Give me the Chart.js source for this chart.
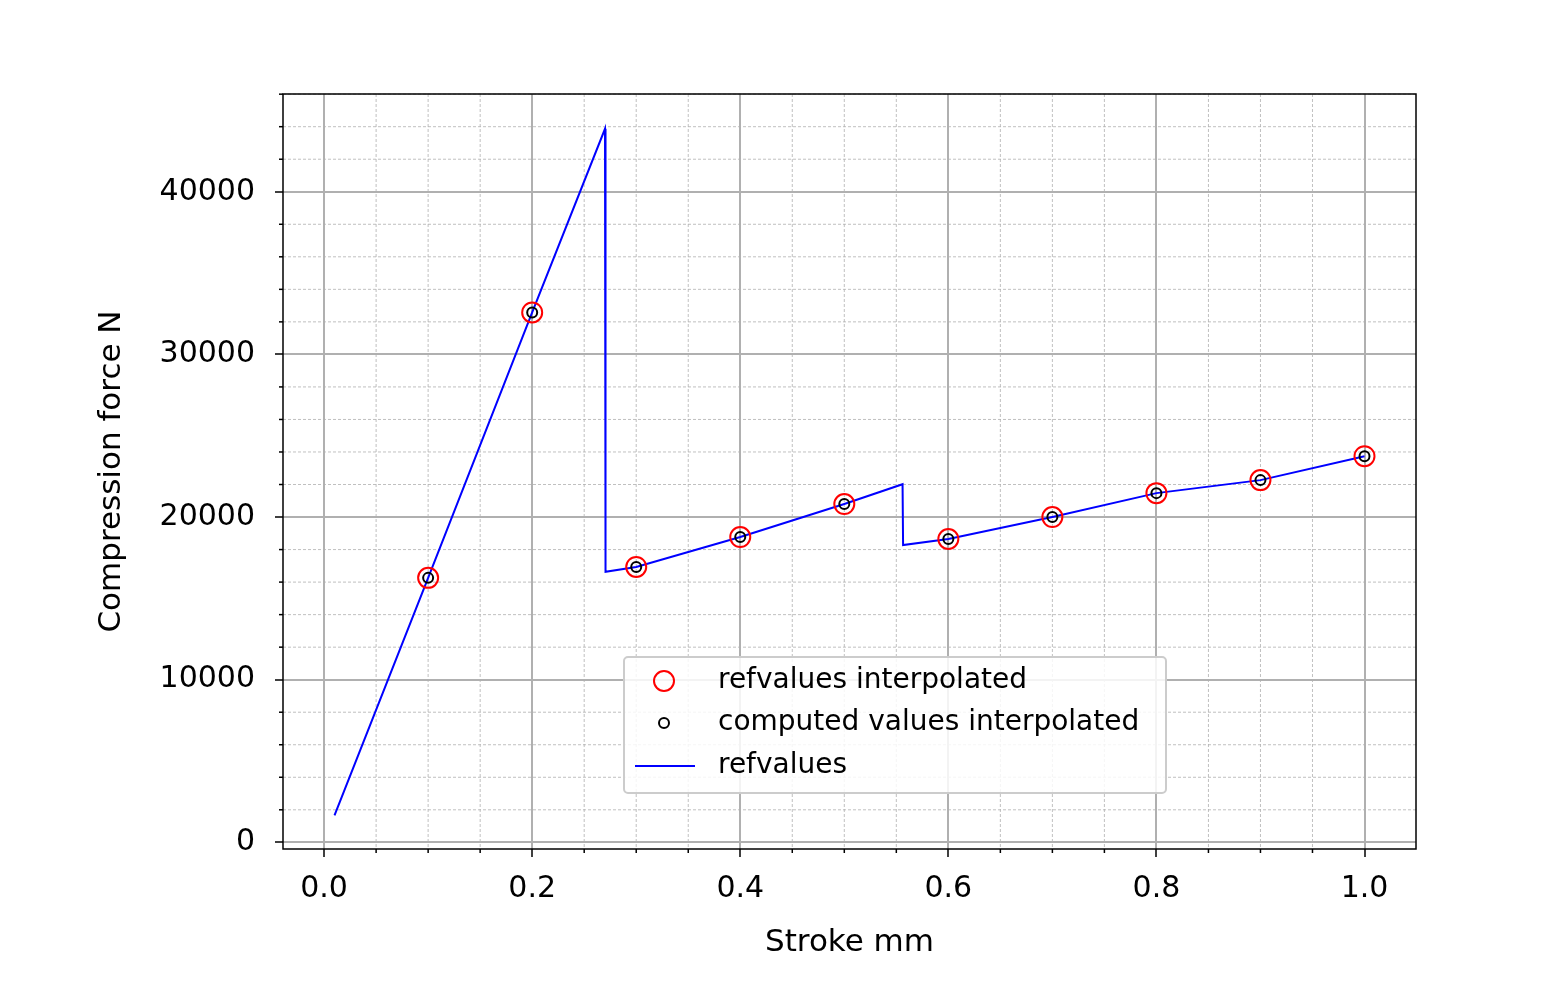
<!DOCTYPE html>
<html><head><meta charset="utf-8">
<script src="https://cdn.jsdelivr.net/npm/chart.js@4"></script>
<style>body{margin:0;background:#fff}</style>
</head><body>
<canvas id="c" width="1559" height="992" style="width:1559px;height:992px"></canvas>
<script>
// Data
const pointX = [0.1, 0.2, 0.3, 0.4, 0.5, 0.6, 0.7, 0.8, 0.9, 1.0];
const refInterp = [16260, 32580, 16930, 18770, 20800, 18650, 20000, 21470, 22270, 23740];
const computedInterp = [16260, 32580, 16930, 18770, 20800, 18650, 20000, 21470, 22270, 23740];
const lineX = [0.01, 0.1, 0.2, 0.27, 0.2705, 0.3, 0.4, 0.5, 0.556, 0.5565, 0.6, 0.7, 0.8, 0.9, 1.0];
const lineY = [1660, 16260, 32580, 43870, 16630, 16930, 18770, 20800, 22020, 18280, 18650, 20000, 21470, 22270, 23740];
const xMajor = [0, 0.2, 0.4, 0.6, 0.8, 1.0];
const yMajor = [0, 10000, 20000, 30000, 40000];
const FONT = '"DejaVu Sans", sans-serif';

const zip = (xs, ys) => xs.map((x, i) => ({x, y: ys[i]}));
const isMajorX = r => Math.abs(r*5 - Math.round(r*5)) < 1e-6;

// minor grid, frame, axis titles and legend drawn on top of the library scales
const extras = {
  id: 'extras',
  beforeDatasetsDraw(chart){
    const {ctx, chartArea:a, scales:{x, y}} = chart;
    ctx.save();
    ctx.strokeStyle = '#b0b0b0'; ctx.lineWidth = 0.8; ctx.setLineDash([3, 2]);
    for(let v = 0; v <= 1.05; v += 0.05){
      const r = Math.round(v*100)/100;
      if(isMajorX(r)) continue;
      const px = x.getPixelForValue(r);
      ctx.beginPath(); ctx.moveTo(px, a.top); ctx.lineTo(px, a.bottom); ctx.stroke();
    }
    for(let v = 0; v <= 46000; v += 2000){
      if(v % 10000 === 0) continue;
      const py = y.getPixelForValue(v);
      ctx.beginPath(); ctx.moveTo(a.left, py); ctx.lineTo(a.right, py); ctx.stroke();
    }
    ctx.setLineDash([]); ctx.strokeStyle = '#000'; ctx.lineWidth = 1.5;
    for(let v = 0; v <= 1.05; v += 0.05){
      const r = Math.round(v*100)/100;
      if(isMajorX(r)) continue;
      const px = x.getPixelForValue(r);
      ctx.beginPath(); ctx.moveTo(px, a.bottom); ctx.lineTo(px, a.bottom + 4); ctx.stroke();
    }
    for(let v = 0; v <= 46000; v += 2000){
      if(v % 10000 === 0) continue;
      const py = y.getPixelForValue(v);
      ctx.beginPath(); ctx.moveTo(a.left, py); ctx.lineTo(a.left - 4, py); ctx.stroke();
    }
    ctx.restore();
  },
  afterDraw(chart){
    const {ctx, chartArea:a} = chart;
    ctx.save();
    ctx.strokeStyle = '#000'; ctx.lineWidth = 1.5;
    ctx.strokeRect(a.left, a.top, a.right - a.left, a.bottom - a.top);
    // axis titles
    ctx.fillStyle = '#000'; ctx.font = '31px ' + FONT;
    ctx.textAlign = 'center'; ctx.textBaseline = 'middle';
    ctx.fillText('Stroke mm', (a.left + a.right)/2, 943);
    ctx.save(); ctx.translate(112, (a.top + a.bottom)/2); ctx.rotate(-Math.PI/2);
    ctx.fillText('Compression force N', 0, 0); ctx.restore();
    // legend
    const lx = 624, ly = 657, lw = 542, lh = 136;
    ctx.fillStyle = 'rgba(255,255,255,0.85)'; ctx.strokeStyle = '#cccccc'; ctx.lineWidth = 2;
    ctx.beginPath(); ctx.roundRect(lx, ly, lw, lh, 4); ctx.fill(); ctx.stroke();
    ctx.font = '28px ' + FONT; ctx.fillStyle = '#000'; ctx.textAlign = 'left';
    const rows = [681, 723, 766];
    ctx.strokeStyle = 'red'; ctx.lineWidth = 2;
    ctx.beginPath(); ctx.arc(664, rows[0], 10, 0, Math.PI*2); ctx.stroke();
    ctx.strokeStyle = '#000';
    ctx.beginPath(); ctx.arc(664, rows[1], 5, 0, Math.PI*2); ctx.stroke();
    ctx.strokeStyle = 'blue';
    ctx.beginPath(); ctx.moveTo(635, rows[2]); ctx.lineTo(695, rows[2]); ctx.stroke();
    ctx.fillText('refvalues interpolated', 718, rows[0]);
    ctx.fillText('computed values interpolated', 718, rows[1]);
    ctx.fillText('refvalues', 718, rows[2]);
    ctx.restore();
  }
};

new Chart(document.getElementById('c'), {
  type: 'scatter',
  data: {datasets: [
    {data: zip(pointX, refInterp), pointRadius: 10, pointBorderWidth: 2, pointBorderColor: 'red', pointBackgroundColor: 'transparent', showLine: false},
    {data: zip(pointX, computedInterp), pointRadius: 5, pointBorderWidth: 2, pointBorderColor: '#000', pointBackgroundColor: 'transparent', showLine: false},
    {data: zip(lineX, lineY), showLine: true, pointRadius: 0, borderColor: 'blue', borderWidth: 2}
  ]},
  options: {
    responsive: false, animation: false, devicePixelRatio: 1,
    layout: {padding: {top: 94, right: 143, left: 0, bottom: 0}},
    plugins: {legend: {display: false}, tooltip: {enabled: false}},
    scales: {
      x: {
        type: 'linear', min: -0.0395, max: 1.0495,
        afterFit: s => { s.height = 143; },
        afterBuildTicks: s => { s.ticks = xMajor.map(v => ({value: v})); },
        ticks: {font: {family: FONT, size: 30}, color: '#000', padding: 14,
          callback: v => v.toFixed(1)},
        grid: {color: '#b0b0b0', lineWidth: 2, tickColor: '#000', tickLength: 8, tickWidth: 1.5},
        border: {display: false}
      },
      y: {
        min: -410, max: 46010,
        afterFit: s => { s.width = 283; },
        afterBuildTicks: s => { s.ticks = yMajor.map(v => ({value: v})); },
        ticks: {font: {family: FONT, size: 30}, color: '#000', padding: 20, callback: v => String(v)},
        grid: {color: '#b0b0b0', lineWidth: 2, tickColor: '#000', tickLength: 8, tickWidth: 1.5},
        border: {display: false}
      }
    }
  },
  plugins: [extras]
});
</script>
</body></html>
